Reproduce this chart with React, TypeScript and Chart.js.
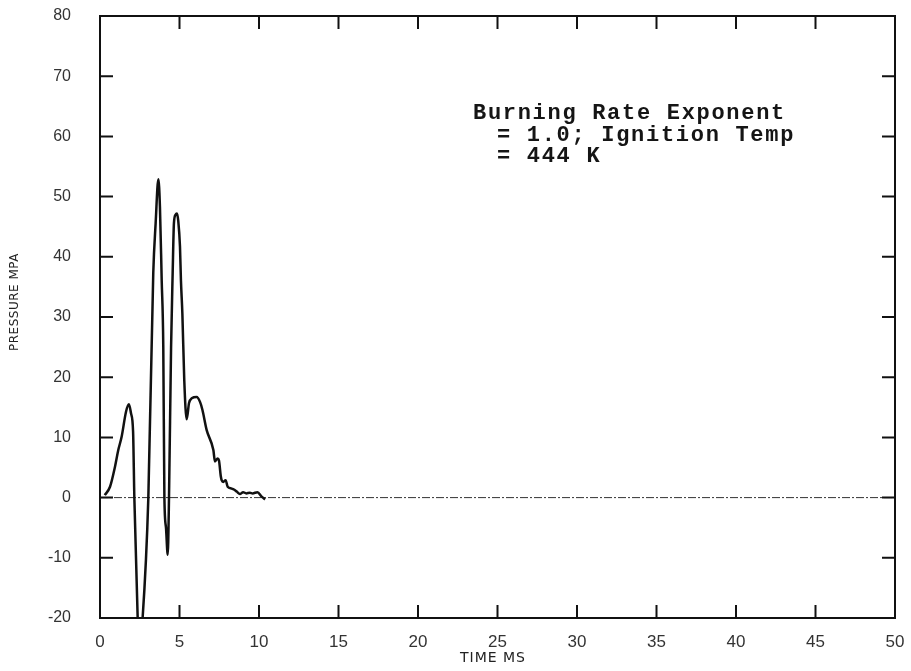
import React, { useEffect, useRef } from 'react';
import { Chart, registerables } from 'chart.js';
Chart.register(...registerables);

const timeMs = [
  0.3, 0.63, 0.94, 1.15, 1.36, 1.64, 1.82, 1.95, 2.08, 2.16, 2.37, 2.5, 2.68, 3.04,
  3.35, 3.5, 3.67, 3.77, 3.88, 3.98, 4.05, 4.15, 4.26, 4.34, 4.47, 4.57, 4.65, 4.75,
  4.84, 4.92, 5.03, 5.09, 5.18, 5.3, 5.45, 5.6, 5.77, 6.08, 6.29, 6.44, 6.71, 7.13,
  7.23, 7.4, 7.48, 7.6, 7.65, 7.75, 7.9, 8.03, 8.28, 8.45, 8.6, 8.8, 9.0, 9.2, 9.43,
  9.6, 9.9, 10.17, 10.38,
];
const pressureMPa = [
  0.4, 1.8, 5.1, 7.9, 10.1, 14.3, 15.5, 14, 11, 0, -20, -24, -20, 0,
  37.3, 45.6, 52.9, 48.3, 36.1, 25, 0, -5, -9.5, 0, 25, 37.3, 45.6, 47,
  47.2, 46, 41.7, 36.1, 30.6, 19.5, 13, 15.7, 16.5, 16.7, 15.9, 14.6, 11.2, 7.9,
  6.0, 6.5, 6.2, 3.5, 2.9, 2.6, 2.9, 1.8, 1.5, 1.3, 1.0, 0.6, 0.9, 0.7, 0.8,
  0.7, 0.9, 0.15, -0.3,
];
const zeroLineX = [0, 50];
const zeroLineY = [0, 0];
const xTicks = [0, 5, 10, 15, 20, 25, 30, 35, 40, 45, 50];
const yTicks = [-20, -10, 0, 10, 20, 30, 40, 50, 60, 70, 80];
const annotationLines = ['Burning Rate Exponent', '= 1.0; Ignition Temp', '= 444 K'];
const xTitle = 'TIME MS';
const yTitle = 'PRESSURE MPA';

export default function App() {
  const ref = useRef<HTMLCanvasElement>(null);
  useEffect(() => {
    if (!ref.current) return;
    const framePlugin = {
      id: 'frame',
      afterDraw(chart: any) {
        const { ctx, chartArea: a, scales } = chart;
        const xs = scales.x;
        const ys = scales.y;
        ctx.save();
        ctx.strokeStyle = '#111';
        ctx.lineWidth = 2;
        ctx.strokeRect(a.left, a.top, a.right - a.left, a.bottom - a.top);
        const tl = 13;
        ctx.beginPath();
        xTicks.forEach((v) => {
          if (v <= xs.min || v >= xs.max) return;
          const px = xs.getPixelForValue(v);
          ctx.moveTo(px, a.bottom);
          ctx.lineTo(px, a.bottom - tl);
          ctx.moveTo(px, a.top);
          ctx.lineTo(px, a.top + tl);
        });
        yTicks.forEach((v) => {
          if (v <= ys.min || v >= ys.max) return;
          const py = ys.getPixelForValue(v);
          ctx.moveTo(a.left, py);
          ctx.lineTo(a.left + tl, py);
          ctx.moveTo(a.right, py);
          ctx.lineTo(a.right - tl, py);
        });
        ctx.stroke();

        // axis titles
        ctx.fillStyle = '#222';
        ctx.textAlign = 'center';
        ctx.textBaseline = 'middle';
        ctx.font = "14px 'DejaVu Sans'";
        (ctx as any).letterSpacing = '1px';
        ctx.fillText(xTitle, 493, 658);
        ctx.save();
        ctx.translate(15, 302);
        ctx.rotate(-Math.PI / 2);
        ctx.font = "12px 'DejaVu Sans'";
        (ctx as any).letterSpacing = '0.5px';
        ctx.fillText(yTitle, 0, 0);
        ctx.restore();

        // annotation
        ctx.fillStyle = '#151515';
        ctx.font = "bold 22px 'Liberation Mono'";
        (ctx as any).letterSpacing = '1.7px';
        ctx.textAlign = 'left';
        ctx.textBaseline = 'alphabetic';
        ctx.fillText(annotationLines[0], 473, 119);
        ctx.fillText(annotationLines[1], 497, 141);
        ctx.fillText(annotationLines[2], 497, 162);
        ctx.restore();
      },
    };

    const chart = new Chart(ref.current, {
      type: 'line',
      data: {
        datasets: [
          {
            data: timeMs.map((t, i) => ({ x: t, y: pressureMPa[i] })),
            borderColor: '#111',
            borderWidth: 2.5,
            pointRadius: 0,
            cubicInterpolationMode: 'monotone',
            fill: false,
          },
          {
            data: zeroLineX.map((t, i) => ({ x: t, y: zeroLineY[i] })),
            borderColor: '#333',
            borderWidth: 1,
            borderDash: [8, 2, 2, 2],
            pointRadius: 0,
            fill: false,
          },
        ],
      },
      options: {
        animation: false,
        responsive: false,
        layout: { padding: { top: 16, right: 16, left: 0, bottom: 0 } },
        plugins: { legend: { display: false }, tooltip: { enabled: false } },
        scales: {
          x: {
            type: 'linear',
            min: 0,
            max: 50,
            afterFit: (s: any) => { s.height = 53; },
            afterBuildTicks: (s: any) => { s.ticks = xTicks.map((v) => ({ value: v })); },
            grid: { display: true, drawOnChartArea: false, drawTicks: true, tickLength: 14, color: 'rgba(0,0,0,0)' },
            border: { display: false },
            ticks: {
              padding: 0,
              color: '#333',
              font: { family: "'Liberation Sans'", size: 17 },
              maxRotation: 0,
            },
          },
          y: {
            type: 'linear',
            min: -20,
            max: 80,
            afterFit: (s: any) => { s.width = 100; },
            afterBuildTicks: (s: any) => { s.ticks = yTicks.map((v) => ({ value: v })); },
            grid: { display: true, drawOnChartArea: false, drawTicks: true, tickLength: 29, color: 'rgba(0,0,0,0)' },
            border: { display: false },
            ticks: {
              padding: 0,
              color: '#333',
              font: { family: "'Liberation Sans'", size: 16 },
            },
          },
        },
      },
      plugins: [framePlugin],
    } as any);
    return () => chart.destroy();
  }, []);

  return (
    <div style={{ position: 'absolute', left: 0, top: 0, width: 911, height: 671, background: '#fff' }}>
      <canvas ref={ref} width={911} height={671} />
    </div>
  );
}
